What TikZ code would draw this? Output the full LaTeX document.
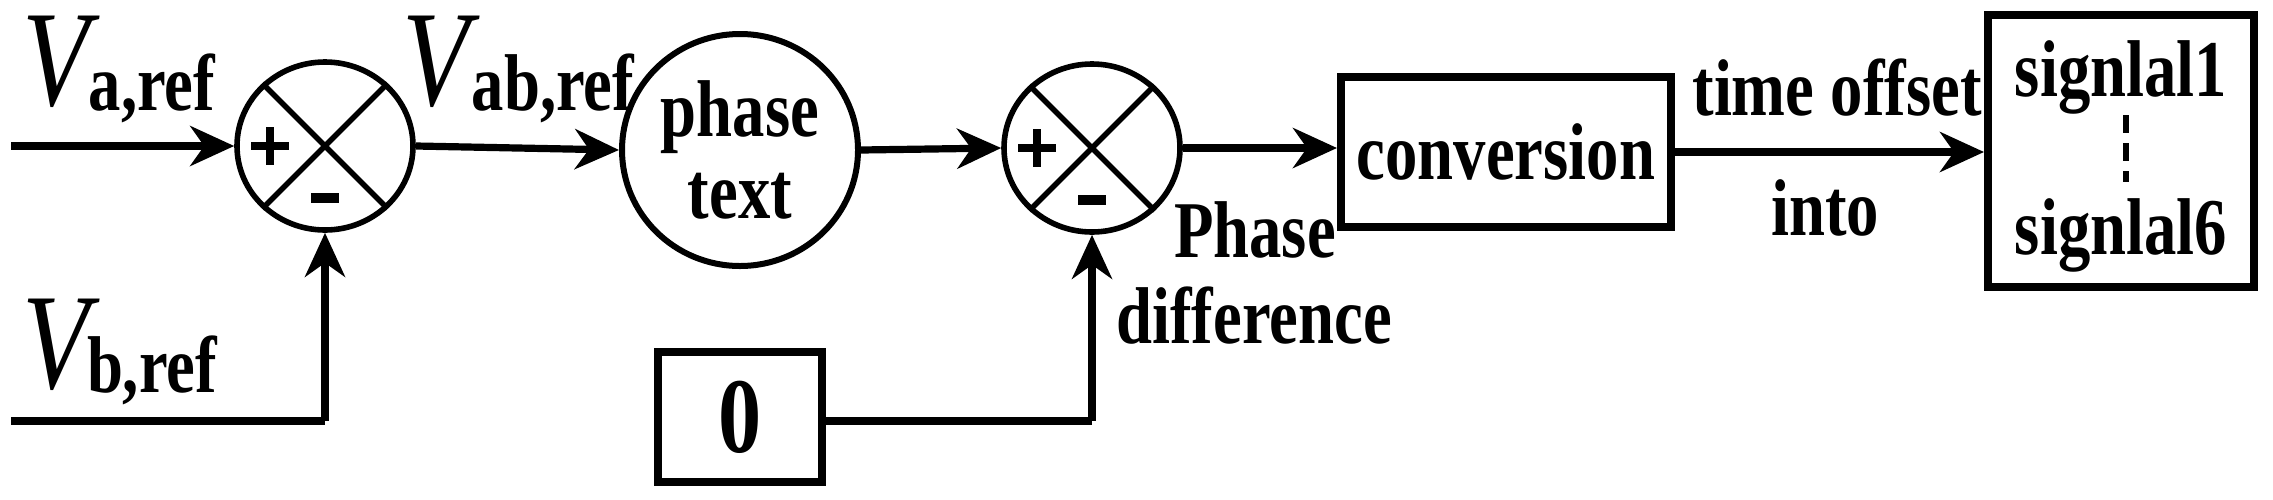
\documentclass[tikz,border=0pt]{standalone}
\usepackage{fontspec}
\setmainfont{Liberation Serif}
\usetikzlibrary{shapes.geometric,arrows.meta}
\newcommand{\tl}[1]{\scalebox{0.98}[1.22]{#1}}
\begin{document}
\begin{tikzpicture}[x=0.5pt,y=-0.5pt,
  txt/.style={font=\fontsize{33}{36}\selectfont\bfseries,inner sep=0pt},
  bigv/.style={font=\fontsize{56}{56}\selectfont\itshape,inner sep=0pt},
  arr/.style={line width=3.6pt,-{Stealth[length=22pt,width=20pt,inset=7pt]}},
  ln/.style={line width=3.6pt},
  sumj/.style={ellipse,draw,line width=2.8pt,minimum width=88pt,minimum height=84pt,inner sep=0pt},
  blk/.style={draw,line width=4pt,inner sep=0pt},
  pm/.style={line width=4pt}]
\useasboundingbox (0,0) rectangle (2273,499);
% nodes
\node[sumj] (s1) at (325,146) {};
\node[ellipse,draw,line width=3pt,minimum width=118pt,minimum height=116pt,inner sep=0pt,
  txt,align=center] (ph) at (740,150) {\tl{phase}\\[5pt]\tl{text}};
\node[sumj] (s2) at (1092,148) {};
\node[blk,minimum width=165pt,minimum height=75pt,txt] (cv) at (1506,152) {\tl{conversion}};
\node[blk,minimum width=133pt,minimum height=136pt] (sg) at (2121,151) {};
\node[blk,minimum width=82pt,minimum height=65pt,txt,font=\fontsize{44}{46}\selectfont\bfseries] (z) at (740,417) {\tl{0}};
% summing junction marks
\foreach \s in {s1,s2}{
  \draw[line width=2.8pt] (\s.45) -- (\s.225) (\s.135) -- (\s.315);
  \draw[pm] ([xshift=-37pt]\s.center) -- ([xshift=-18pt]\s.center)
            ([xshift=-27.5pt,yshift=9.5pt]\s.center) -- ([xshift=-27.5pt,yshift=-9.5pt]\s.center);
  \draw[line width=5pt] ([xshift=-7pt,yshift=-26pt]\s.center) -- ([xshift=7pt,yshift=-26pt]\s.center);
}
% labels
\node[bigv] (va) at (56,62) {\tl{V}};
\node[txt] (vas) at (152,88) {\tl{a,ref}};
\node[bigv] (vb) at (56,345) {\tl{V}};
\node[txt] (vbs) at (152,370) {\tl{b,ref}};
\node[bigv] (vab) at (436,62) {\tl{V}};
\node[txt] (vabs) at (553,88) {\tl{ab,ref}};
\node[txt] (pha) at (1255,230) {\tl{Phase}};
\node[txt] (dif) at (1254,316) {\tl{difference}};
\node[txt] (to) at (1837,88) {\tl{time offset}};
\node[txt] (in) at (1825,208) {\tl{into}};
\node[txt] (sg1) at (2121,77) {\tl{signlal1}};
\node[txt] (sg6) at (2121,235) {\tl{signlal6}};
\coordinate (d1) at (2126,115);
\coordinate (d2) at (2126,182);
\draw[line width=3.2pt,dash pattern=on 9pt off 5pt] (d1) -- (d2);
% connectors
\coordinate (vain) at (11,146);
\coordinate (vbin) at (11,421);
\coordinate (zin) at (1092,421);
\draw[arr] (vain) -- (s1.west);
\draw[ln] (vbin) -- (s1.south |- vbin);
\draw[arr] (s1.south |- vbin) -- (s1.south);
\draw[arr] (s1.east) -- (ph.west);
\draw[arr] (ph.east) -- (s2.west);
\draw[ln] (z.east |- zin) -- (zin);
\draw[arr] (zin) -- (s2.south);
\draw[arr] (s2.east) -- (s2.east -| cv.west);
\draw[arr] (cv.east) -- (cv.east -| sg.west);
\end{tikzpicture}
\end{document}
